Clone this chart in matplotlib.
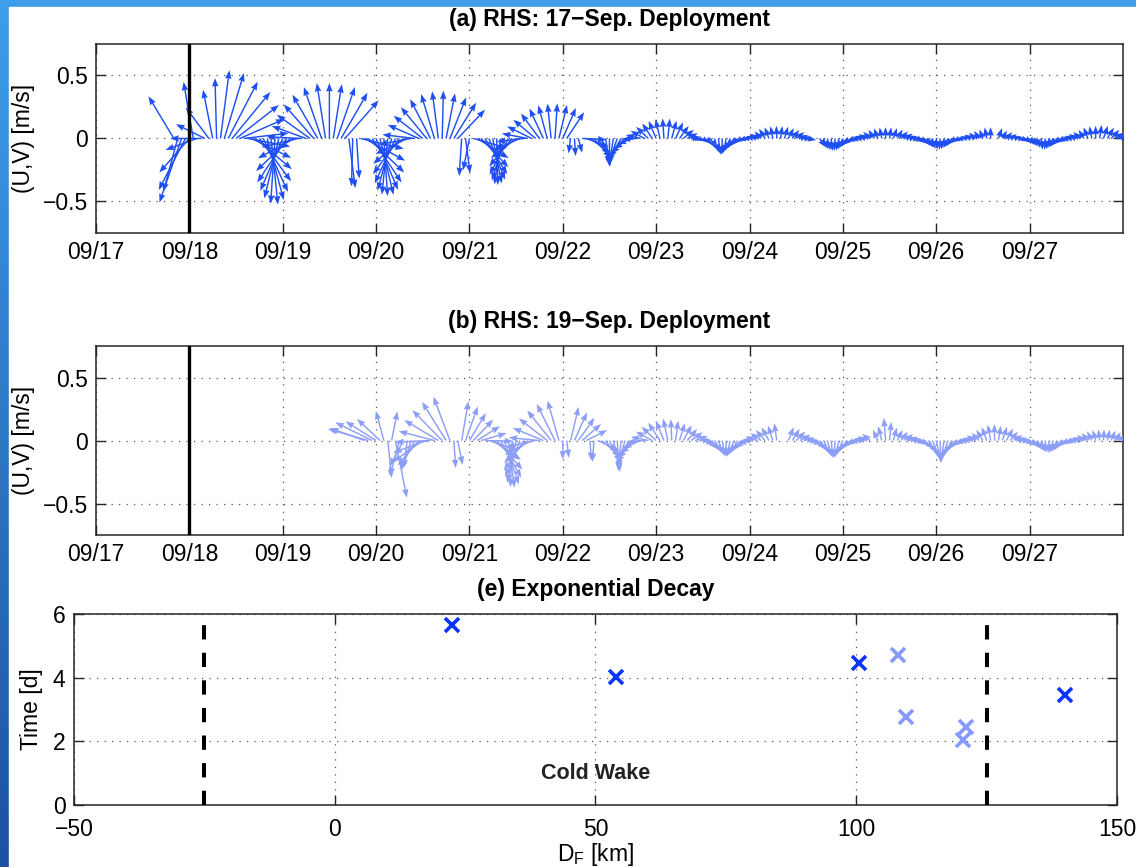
import numpy as np
import pandas as pd
import matplotlib
matplotlib.use('Agg')
import matplotlib.pyplot as plt
import matplotlib.dates as mdates
from matplotlib.patches import Rectangle

plt.rcParams['font.family'] = ['Liberation Sans', 'DejaVu Sans']
plt.rcParams['mathtext.fontset'] = 'custom'
plt.rcParams['mathtext.rm'] = 'Liberation Sans'
plt.rcParams['axes.linewidth'] = 1.1
plt.rcParams['axes.edgecolor'] = '#262626'

nan = np.nan

# ---- (a) RHS 17-Sep deployment, hourly speed [m/s] and direction [deg, toward, clockwise from N]
a_start = '2010-09-17 20:00'
a_spd = [
    .43, .45, .56, .50,
    .42, .46, .35, .33, .33, .35, .40, .48, .55, .56, .55, .55, .53, .50, .48, .46, .45, .46, .48, .50, .52, .53, .52, .50,
    .48, .47, .45, .42, .40, .38, .38, .40, .42, .44, .45, .45, .44, .44, .45, .46, .47, .40, .38, .32, .47, .47, .47, .47,
    .47, .47, .46, .45, .44, .42, .40, .38, .36, .35, .35, .35, .36, .37, .38, .38, .38, .38, .37, .37, .37, .37, .30, .28,
    .26, .37, .37, .37, .37, .37, .37, .37, .37, .36, .35, .33, .31, .30, .29, .28, .28, .28, .28, .28, .28, .28, .28, .28,
    .28, .28, .12, .14, .12, .26, .25, .25, .24, .24, .23, .23, .22, .22, .21, .20, .19, .18, .17, .16, .16, .16, .16, .16,
    .16, .16, .16, .16, .15, .15, .14, .13, .12, .10, .08, .07, .07, .08, .10, .12, .13, .13, .12, .11, .10, .09, .08, .08,
    .08, .08, .09, .09, .10, .10, .10, .10, .10, .10, .10, .10, .10, .09, .09, .09, nan, nan, .10, .10, .10, .10, .10, .10,
    .10, .10, .10, .09, .09, .09, .09, .09, .09, .09, .09, .09, .09, .09, .09, .09, .09, .09, .09, .09, .09, .09, .09, .09,
    .09, .09, .09, .09, .09, .08, .08, .08, .08, .08, .08, .08, .08, .09, .09, nan, .09, .08, .08, .08, .08, .08, .08, .08,
    .08, .08, .08, .09, .09, .09, .09, .09, .09, .09, .09, .09, .09, .09, .09, .10, .10, .10, .11, .11, .11, .11, .11, .11,
]
a_dir = [
    321, 200, 205, 215,
    230, 347, 255, 270, 290, 315, 345, 358, 10, 22, 35, 48, 60, 72, 85, 98, 110, 122, 135, 148, 160, 172, 185, 198,
    210, 222, 235, 248, 260, 272, 285, 298, 310, 322, 335, 348, 0, 12, 25, 38, 50, 170, 182, 175, 100, 112, 125, 138,
    150, 162, 175, 188, 200, 212, 225, 238, 250, 262, 275, 288, 300, 312, 325, 338, 350, 2, 15, 28, 40, 52, 185, 170,
    195, 102, 115, 128, 140, 152, 165, 178, 190, 202, 215, 228, 240, 252, 265, 278, 290, 302, 315, 328, 340, 352, 5, 18,
    30, 42, 190, 175, 160, 92, 105, 118, 130, 142, 155, 168, 180, 192, 205, 218, 230, 242, 255, 268, 280, 292, 305, 318,
    330, 342, 355, 8, 20, 32, 45, 58, 70, 82, 95, 108, 120, 132, 145, 158, 170, 182, 195, 208, 220, 232, 245, 258,
    270, 282, 295, 308, 320, 332, 345, 358, 10, 22, 35, 48, 60, 72, 85, 98, 110, 122, 135, 148, 160, 172, 185, 198,
    212, 225, 239, 252, 265, 279, 292, 305, 319, 332, 345, 359, 12, 25, 39, 52, 65, 79, 92, 105, 119, 132, 145, 159,
    172, 185, 199, 212, 225, 239, 252, 265, 279, 292, 305, 319, 332, 345, 359, 12, 25, 39, 52, 65, 79, 92, 105, 119,
    132, 145, 159, 172, 185, 199, 212, 225, 239, 252, 265, 279, 292, 305, 319, 332, 345, 359, 12, 25, 39, 52, 65, 79,
]

# ---- (b) RHS 19-Sep deployment
b_start = '2010-09-19 21:00'
b_spd = [
    .38, .44, .42,
    .36, .30, .25, .30, .24, .47, .30, .25, .22, .25, .28, .30, .36, .37, .38, .39, .40, .40, .40, .39, .22, .20, .32, .30,
    .28, .27, .27, .28, .30, .32, .34, .36, .37, .38, .38, .37, .35, .33, .32, .31, .31, .32, .33, .34, .35, .35, .35, .34,
    .15, .14, .28, .26, .25, .24, .24, .16, .17, .24, .24, .24, .25, .25, .25, .24, .23, .22, .21, .20, .20, .19, .19, .19,
    .19, .19, .18, .18, .17, .16, .15, .15, .14, .14, .14, .13, .13, .13, .13, .13, .13, .13, .13, .13, .13, .13, .13, .13,
    .13, .13, .13, .13, .13, .13, .13, .14, nan, nan, .12, .12, .12, .12, .12, .12, .12, .13, .13, .14, .14, .14, .14, .14,
    .13, .12, .11, .10, .10, .10, .10, .10, nan, .10, .12, .18, .15, .11, .10, .10, .10, .10, .10, .10, .10, .12, .14, .16,
    .17, .18, .17, .15, .13, .11, .10, .10, .10, .10, .10, .10, .11, .12, .13, .13, .12, .12, .12, .11, .10, .10, .10, .10,
    .10, .10, .10, .10, .10, .10, .10, .10, .10, .09, .09, .09, .09, .09, .09, .09, .09, .09, .09, .09, .09, .09, .09, .09,
]
b_dir = [
    285, 282, 290,
    295, 305, 340, 172, 15, 165, 200, 215, 190, 203, 216, 229, 242, 255, 268, 281, 294, 307, 320, 333, 175, 165, 13, 26,
    39, 52, 65, 78, 91, 104, 117, 130, 143, 156, 170, 183, 196, 209, 222, 235, 248, 261, 274, 287, 300, 313, 326, 339,
    180, 170, 18, 31, 44, 57, 70, 175, 185, 109, 122, 135, 148, 162, 175, 188, 201, 214, 227, 240, 253, 266, 279, 292,
    305, 318, 331, 344, 357, 10, 23, 36, 49, 62, 75, 88, 101, 114, 127, 140, 154, 167, 180, 193, 206, 219, 232, 245,
    258, 271, 284, 297, 310, 323, 336, 349, 2, 15, 28, 41, 54, 67, 80, 93, 106, 120, 133, 146, 159, 172, 185, 198,
    211, 224, 237, 250, 263, 276, 289, 302, 315, 328, 341, 354, 7, 20, 33, 46, 59, 72, 85, 98, 112, 125, 138, 151,
    164, 177, 190, 203, 216, 229, 242, 255, 268, 281, 294, 307, 320, 333, 346, 359, 12, 25, 38, 51, 64, 77, 90, 104,
    117, 130, 143, 156, 169, 182, 195, 208, 221, 234, 247, 260, 273, 286, 299, 312, 325, 338, 351, 4, 17, 30, 43, 56,
]

storm_day = '2010-09-18'
x_range = ('2010-09-17', '2010-09-28')

# ---- (e) exponential decay time vs cross-front distance
dark_dist = [22.5, 54, 100.5, 140]
dark_time = [5.65, 4.03, 4.47, 3.47]
light_dist = [108, 109.5, 121, 120.5]
light_time = [4.72, 2.78, 2.45, 2.05]
wake_edges = [-25, 125]
wake_top = 5.72

fig = plt.figure(figsize=(11.36, 8.67), dpi=100)

# slide background strip (blue) behind the white plot area
bg = fig.add_axes([0, 0, 1, 1], zorder=-10)
grad = np.linspace(0, 1, 256).reshape(-1, 1)
bg.imshow(grad, extent=[0, 1, 0, 1], aspect='auto', origin='upper',
          cmap=matplotlib.colors.LinearSegmentedColormap.from_list('s', ['#3f9ee9', '#1d52a0']))
bg.add_patch(Rectangle((9 / 1136, 0), 1, 1 - 7 / 867, color='white'))
bg.set_xlim(0, 1)
bg.set_ylim(0, 1)
bg.axis('off')


def style(ax, xpad=6):
    ax.tick_params(direction='in', top=True, right=True, length=7, width=1,
                   labelsize=16.5, pad=6, color='#262626')
    ax.tick_params(axis='x', pad=xpad)
    ax.grid(True, linestyle=(0, (1, 5)), color='#555555', lw=0.9)
    ax.set_axisbelow(True)


def feather(ax, start, spd, dirs, color, title):
    t = mdates.date2num(pd.date_range(start, periods=len(spd), freq='h').to_pydatetime())
    spd = np.array(spd, dtype=float)
    th = np.radians(np.array(dirs, dtype=float))
    u = spd * np.sin(th)
    v = spd * np.cos(th)
    ax.quiver(t, np.zeros_like(t), u, v, angles='xy', scale_units='xy', scale=1,
              color=color, width=0.0014, headwidth=4.5, headlength=6, headaxislength=5.5,
              zorder=3)
    ax.axvline(mdates.date2num(pd.Timestamp(storm_day)), color='k', lw=2.4, zorder=4)
    ax.set_xlim(mdates.date2num(pd.Timestamp(x_range[0])), mdates.date2num(pd.Timestamp(x_range[1])))
    ax.set_ylim(-0.75, 0.75)
    ax.set_yticks([-0.5, 0, 0.5])
    ax.set_yticklabels(['\u22120.5', '0', '0.5'])
    ax.xaxis.set_major_locator(mdates.DayLocator())
    ax.xaxis.set_major_formatter(mdates.DateFormatter('%m/%d'))
    ax.set_xticks(ax.get_xticks()[:-1])
    ax.set_ylabel('(U,V) [m/s]', fontsize=16.5, labelpad=5)
    ax.set_title(title, fontsize=16.5, fontweight='bold', pad=13)
    style(ax)


ax1 = fig.add_axes([0.0845, 0.7313, 0.9040, 0.2180])
feather(ax1, a_start, a_spd, a_dir, '#1f4ff2', '(a) RHS: 17\u2212Sep. Deployment')

ax2 = fig.add_axes([0.0845, 0.3829, 0.9040, 0.2180])
feather(ax2, b_start, b_spd, b_dir, '#8c9ef7', '(b) RHS: 19\u2212Sep. Deployment')

ax3 = fig.add_axes([0.0651, 0.0715, 0.9181, 0.2203])
for xe in wake_edges:
    ax3.plot([xe, xe], [0, wake_top], color='k', lw=2.9, ls=(0, (3.55, 3.3)), zorder=3)
ax3.plot(dark_dist, dark_time, 'x', color='#0a35ff', ms=10, mew=2.6, zorder=4)
ax3.plot(light_dist, light_time, 'x', color='#8799ff', ms=10, mew=2.6, zorder=4)
ax3.text(50, 1.0, 'Cold Wake', ha='center', va='center', fontsize=15.5, fontweight='bold',
         color='#222222')
ax3.set_xlim(-50, 150)
ax3.set_ylim(0, 6)
ax3.set_xticks([-50, 0, 50, 100, 150])
ax3.set_xticklabels(['\u221250', '0', '50', '100', '150'])
ax3.set_yticks([0, 2, 4, 6])
ax3.set_xlabel(r'D$_{\rm F}$ [km]', fontsize=16.5, labelpad=0)
ax3.set_ylabel('Time [d]', fontsize=16.5, labelpad=7)
ax3.set_title('(e) Exponential Decay', fontsize=16.5, fontweight='bold', pad=13)
style(ax3, xpad=9)

fig.savefig('out.png', dpi=100)
